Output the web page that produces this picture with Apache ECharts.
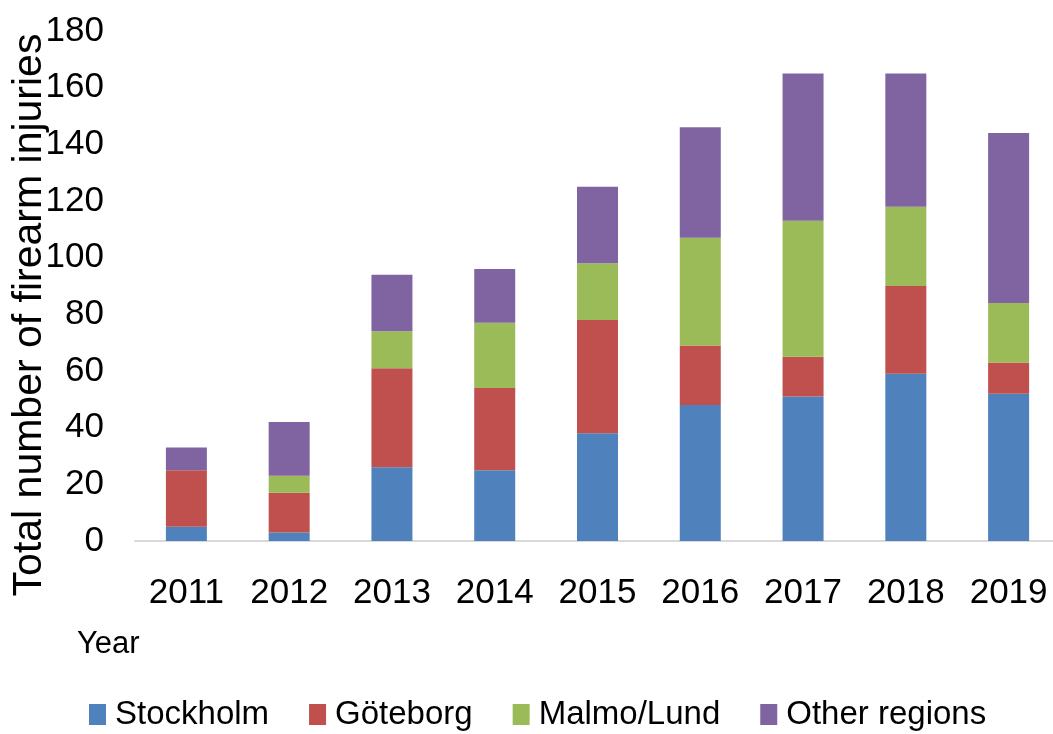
<!DOCTYPE html>
<html>
<head>
<meta charset="utf-8">
<script src="https://cdn.jsdelivr.net/npm/echarts@6/dist/echarts.min.js"></script>
<style>
html,body{margin:0;padding:0;background:#fff;}
#main{width:1053px;height:734px;}
</style>
</head>
<body>
<div id="main"></div>
<script>
// 数据
var years = ['2011', '2012', '2013', '2014', '2015', '2016', '2017', '2018', '2019'];
var stockholm = [5, 3, 26, 25, 38, 48, 51, 59, 52];
var goteborg = [20, 14, 35, 29, 40, 21, 14, 31, 11];
var malmo = [0, 6, 13, 23, 20, 38, 48, 28, 21];
var other = [8, 19, 20, 19, 27, 39, 52, 47, 60];
var yTicks = [0, 180, 20];

var font = "'Liberation Sans', Arial, sans-serif";

var myChart = echarts.init(document.getElementById('main'));

function bar(name, data, color) {
    return {
        name: name,
        type: 'bar',
        stack: 'total',
        barWidth: 41,
        data: data,
        itemStyle: {color: color}
    };
}

var option = {
    animation: false,
    grid: {left: 135, top: 31, width: 925, height: 510, outerBoundsMode: 'none'},
    legend: {
        left: 89,
        top: 698,
        padding: 0,
        icon: 'rect',
        itemWidth: 17,
        itemHeight: 21,
        itemGap: 40,
        textStyle: {fontFamily: font, fontSize: 33, color: '#000', padding: [0, 0, 0, 4]},
        data: ['Stockholm', 'Göteborg', 'Malmo/Lund', 'Other regions']
    },
    xAxis: {
        type: 'category',
        data: years,
        axisLine: {lineStyle: {color: '#d9d9d9', width: 2}},
        axisTick: {show: false},
        axisLabel: {fontFamily: font, fontSize: 35, color: '#000', margin: 35, interval: 0}
    },
    yAxis: {
        type: 'value',
        min: yTicks[0],
        max: yTicks[1],
        interval: yTicks[2],
        splitLine: {show: false},
        axisLine: {show: false},
        axisTick: {show: false},
        axisLabel: {fontFamily: font, fontSize: 35, color: '#000', margin: 31}
    },
    graphic: [
        {
            type: 'text',
            x: 30,
            y: 315,
            rotation: Math.PI / 2,
            style: {
                text: 'Total number of firearm injuries',
                font: '41px ' + font,
                fill: '#000',
                align: 'center',
                verticalAlign: 'middle'
            }
        },
        {
            type: 'text',
            x: 77,
            y: 644,
            style: {
                text: 'Year',
                font: '31px ' + font,
                fill: '#000',
                align: 'left',
                verticalAlign: 'middle'
            }
        }
    ],
    series: [
        bar('Stockholm', stockholm, '#4F81BD'),
        bar('Göteborg', goteborg, '#C0504D'),
        bar('Malmo/Lund', malmo, '#9BBB59'),
        bar('Other regions', other, '#8064A2')
    ]
};
myChart.setOption(option);
</script>
</body>
</html>
